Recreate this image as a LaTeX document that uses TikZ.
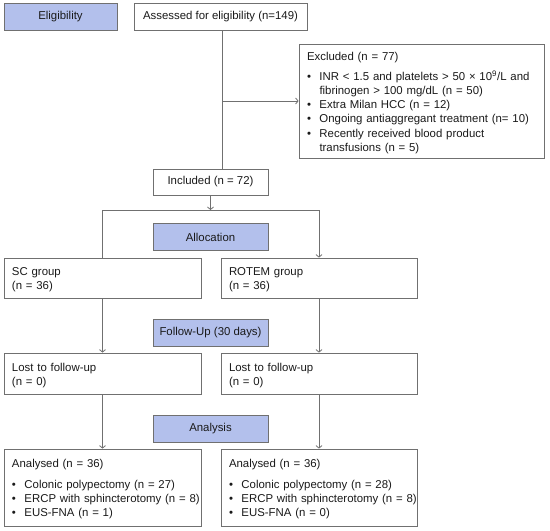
\documentclass[tikz,border=0pt]{standalone}
\usepackage{fontspec}
\setmainfont{Liberation Sans}
\usetikzlibrary{arrows.meta}
\definecolor{bluefill}{HTML}{B3C0EC}
\definecolor{edgegray}{HTML}{707070}
\definecolor{txtcol}{HTML}{1A1A1A}
\newcommand{\bitem}[1]{\mbox{\makebox[12.5pt][l]{\textbullet}#1}}
\newcommand{\bcont}[1]{\mbox{\hspace*{12.5pt}#1}}
\newcommand{\topstrut}{\rule{0pt}{11.8pt}}
\tikzset{
  box/.style={draw=edgegray, line width=0.8pt, fill=white, text=txtcol, inner sep=0pt,
    font=\fontsize{11.4}{14.2}\selectfont},
  phase/.style={box, fill=bluefill, align=center, minimum width=115pt, minimum height=27pt},
  textbox/.style={box, align=left, inner xsep=8pt, inner ysep=0pt},
  conn/.style={draw=edgegray, line width=0.8pt},
  arr/.style={conn, -{Straight Barb[length=2.5pt,width=6pt]}}
}
\begin{document}
\begin{tikzpicture}[x=1pt,y=-1pt]
\useasboundingbox (0,0) rectangle (550,531);
% phase boxes
\node[phase, minimum width=113pt] (elig) at (60.5,16.5) {Eligibility};
\node[phase] (alloc) at (210.5,237) {Allocation};
\node[phase] (fu) at (210.5,333) {Follow-Up (30 days)};
\node[phase] (ana) at (210.5,428.5) {Analysis};
% flow boxes
\node[box, minimum width=173pt, minimum height=27pt] (assess) at (220.5,16.5) {Assessed for eligibility (n=149)};
\node[textbox, text width=229pt, minimum height=114pt] (excl) at (421.5,101)
  {\topstrut\mbox{Excluded (n = 77)}\\[5.8pt]
   \bitem{INR < 1.5 and platelets > 50 × 10\textsuperscript{9}/L and}\\
   \bcont{fibrinogen > 100 mg/dL (n = 50)}\\
   \bitem{Extra Milan HCC (n = 12)}\\
   \bitem{Ongoing antiaggregant treatment (n= 10)}\\
   \bitem{Recently received blood product}\\
   \bcont{transfusions (n = 5)}};
\node[box, minimum width=115pt, minimum height=26pt] (incl) at (210.5,182) {Included (n = 72)};
\node[textbox, text width=181pt, minimum height=40pt] (sc) at (102.5,278) {\topstrut SC group\\(n = 36)};
\node[textbox, text width=180pt, minimum height=40pt] (rotem) at (319,278) {\topstrut ROTEM group\\(n = 36)};
\node[textbox, text width=181pt, minimum height=41pt] (lost1) at (102.5,373.5) {\topstrut Lost to follow-up\\(n = 0)};
\node[textbox, text width=180pt, minimum height=41pt] (lost2) at (319,373.5) {\topstrut Lost to follow-up\\(n = 0)};
\node[textbox, text width=181pt, minimum height=77pt] (an1) at (102.5,487.5)
  {\topstrut\mbox{Analysed (n = 36)}\\[6.5pt]
   \bitem{Colonic polypectomy (n = 27)}\\
   \bitem{ERCP with sphincterotomy (n = 8)}\\
   \bitem{EUS-FNA (n = 1)}};
\node[textbox, text width=180pt, minimum height=77pt] (an2) at (319,487.5)
  {\topstrut\mbox{Analysed (n = 36)}\\[6.5pt]
   \bitem{Colonic polypectomy (n = 28)}\\
   \bitem{ERCP with sphincterotomy (n = 8)}\\
   \bitem{EUS-FNA (n = 0)}};
% connectors
\coordinate (trunk) at (222,30);
\draw[conn] (assess.south -| trunk) -- (incl.north -| trunk);
\draw[arr] (excl.west -| trunk) -- (excl.west);
\coordinate (split) at (210.5,210);
\draw[arr] (incl.south) -- (split);
\draw[conn] (sc.north) -- (sc.north |- split) -- (rotem.north |- split);
\draw[arr] (rotem.north |- split) -- (rotem.north);
\draw[arr] (sc.south) -- (lost1.north);
\draw[arr] (rotem.south) -- (lost2.north);
\draw[arr] (lost1.south) -- (an1.north);
\draw[arr] (lost2.south) -- (an2.north);
\end{tikzpicture}
\end{document}
